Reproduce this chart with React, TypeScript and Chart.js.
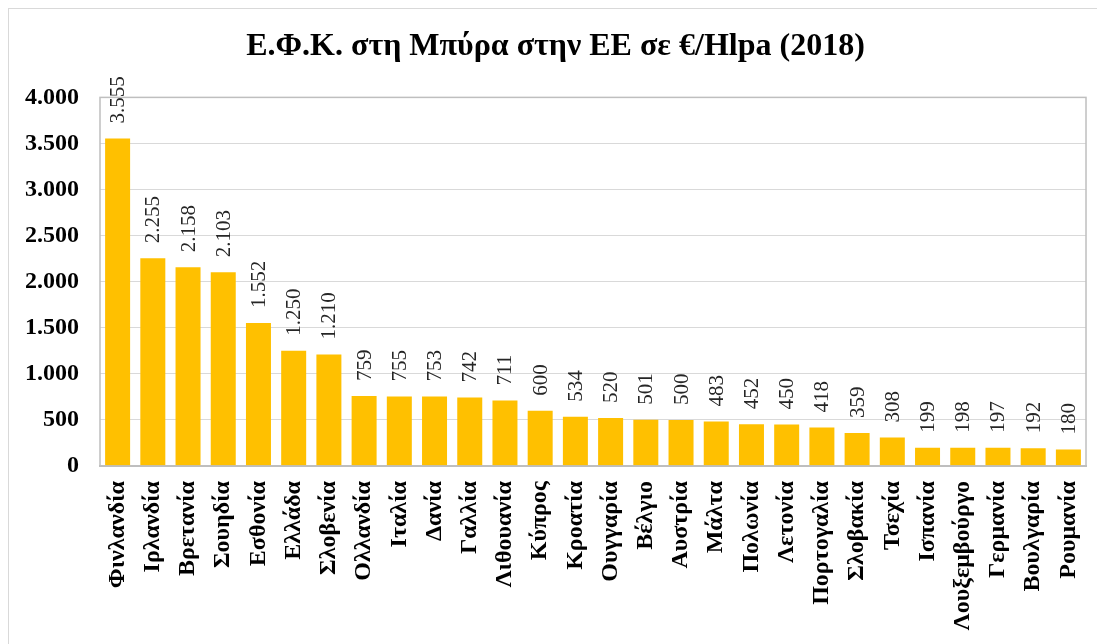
import React, { useEffect, useRef } from "react";
import { Chart, registerables } from "chart.js";

Chart.register(...registerables);

const categories: string[] = [
  "Φινλανδία", "Ιρλανδία", "Βρετανία", "Σουηδία", "Εσθονία", "Ελλάδα", "Σλοβενία",
  "Ολλανδία", "Ιταλία", "Δανία", "Γαλλία", "Λιθουανία", "Κύπρος", "Κροατία",
  "Ουγγαρία", "Βέλγιο", "Αυστρία", "Μάλτα", "Πολωνία", "Λετονία", "Πορτογαλία",
  "Σλοβακία", "Τσεχία", "Ισπανία", "Λουξεμβούργο", "Γερμανία", "Βουλγαρία", "Ρουμανία",
];

const values: number[] = [
  3555, 2255, 2158, 2103, 1552, 1250, 1210, 759, 755, 753, 742, 711, 600, 534,
  520, 501, 500, 483, 452, 450, 418, 359, 308, 199, 198, 197, 192, 180,
];

const titleText = "Ε.Φ.Κ. στη Μπύρα στην ΕΕ σε €/Hlpa (2018)";
const yMin = 0;
const yMax = 4000;
const yStep = 500;

const SERIF = "'Liberation Serif', 'Times New Roman', serif";

function fmt(v: number): string {
  return String(Math.round(v)).replace(/\B(?=(\d{3})+(?!\d))/g, ".");
}

const labelPlugin = {
  id: "barLabels",
  afterDatasetsDraw(chart: any) {
    const { ctx } = chart;
    const meta = chart.getDatasetMeta(0);
    ctx.save();
    ctx.font = `21px ${SERIF}`;
    ctx.fillStyle = "#262626";
    ctx.textAlign = "left";
    ctx.textBaseline = "middle";
    meta.data.forEach((bar: any, i: number) => {
      ctx.save();
      ctx.translate(bar.x, bar.y - 15);
      ctx.rotate(-Math.PI / 2);
      ctx.fillText(fmt(values[i]), 0, 1);
      ctx.restore();
    });
    ctx.restore();
  },
};

const framePlugin = {
  id: "plotFrame",
  afterDraw(chart: any) {
    const { ctx, chartArea } = chart;
    ctx.save();
    ctx.strokeStyle = "#bfbfbf";
    ctx.lineWidth = 1.5;
    ctx.strokeRect(chartArea.left, chartArea.top, chartArea.right - chartArea.left, chartArea.bottom - chartArea.top);
    ctx.restore();
  },
};

export default function App() {
  const ref = useRef<HTMLCanvasElement | null>(null);

  useEffect(() => {
    if (!ref.current) return;
    const chart = new Chart(ref.current, {
      type: "bar",
      data: {
        labels: categories,
        datasets: [
          {
            data: values,
            backgroundColor: "#FFC000",
            borderWidth: 0,
            barPercentage: 0.71,
            categoryPercentage: 1,
          },
        ],
      },
      options: {
        responsive: false,
        animation: false,
        layout: { padding: { left: 16, right: 19, top: 0, bottom: 0 } },
        plugins: {
          legend: { display: false },
          tooltip: { enabled: false },
          title: {
            display: true,
            text: titleText,
            color: "#000000",
            font: { family: SERIF, size: 32, weight: "bold", lineHeight: 1.2 },
            padding: { top: 19, bottom: 31 },
          },
        },
        scales: {
          x: {
            grid: { display: false, drawTicks: false },
            border: { display: true, color: "#bfbfbf", width: 2 },
            ticks: {
              autoSkip: false,
              maxRotation: 90,
              minRotation: 90,
              padding: 15,
              color: "#000000",
              font: { family: SERIF, size: 24, weight: "bold" },
            },
            afterFit: (scale: any) => {
              scale.paddingLeft = 0;
              scale.paddingRight = 0;
              scale.height = 178;
            },
          },
          y: {
            min: yMin,
            max: yMax,
            grid: { color: "#d9d9d9", lineWidth: 1, drawTicks: false },
            border: { display: false },
            ticks: {
              stepSize: yStep,
              padding: 21,
              color: "#000000",
              font: { family: SERIF, size: 24, weight: "bold" },
              callback: (v: any) => fmt(Number(v)),
            },
            afterFit: (scale: any) => {
              scale.width = 75;
            },
          },
        },
      },
      plugins: [labelPlugin, framePlugin],
    });
    return () => chart.destroy();
  }, []);

  return (
    <div
      style={{
        width: 1097,
        height: 636,
        boxSizing: "border-box",
        borderTop: "1px solid #d9d9d9",
        borderLeft: "1px solid #d9d9d9",
        background: "#ffffff",
        overflow: "hidden",
      }}
    >
      <canvas ref={ref} width={1096} height={635} style={{ display: "block" }} />
    </div>
  );
}
